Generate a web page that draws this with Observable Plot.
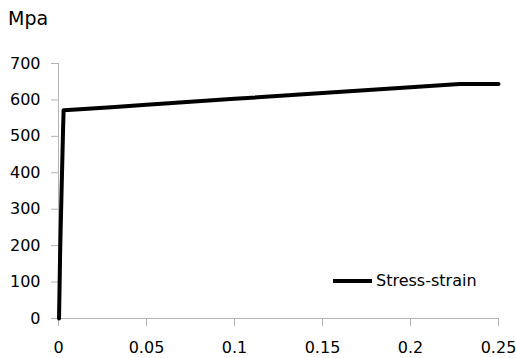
<!DOCTYPE html>
<html><head><meta charset="utf-8">
<script src="https://cdn.jsdelivr.net/npm/d3@7"></script>
<script src="https://cdn.jsdelivr.net/npm/@observablehq/plot@0.6"></script>
<style>
body{margin:0;background:#fff;font-family:"DejaVu Sans",sans-serif;color:#000;}
#wrap{position:relative;width:516px;height:358px;}
#wrap svg.plot{position:absolute;left:0;top:0;}
#unit{position:absolute;left:8px;top:6px;font-size:19px;line-height:24px;}
#legend{position:absolute;left:333px;top:271px;display:flex;align-items:center;font-size:16px;line-height:20px;}
#legend svg{display:block;}
</style></head>
<body>
<div id="wrap">
  <div id="chart"></div>
  <div id="unit">Mpa</div>
  <div id="legend"><svg width="43" height="10"><line x1="0" x2="39" y1="5" y2="5" stroke="#000" stroke-width="4"/></svg><span>Stress-strain</span></div>
</div>
<script>
const strain = [0.0003, 0.001, 0.002, 0.0026, 0.0029, 0.01, 0.03, 0.05, 0.1, 0.15, 0.2, 0.228, 0.25];
const stress = [0, 200, 400, 520, 572, 574, 580, 587, 603, 619, 635, 644, 644];
const xTicks = [0, 0.05, 0.1, 0.15, 0.2, 0.25];
const yTicks = [0, 100, 200, 300, 400, 500, 600, 700];
const seriesName = "Stress-strain";

const data = strain.map((s, i) => ({strain: s, stress: stress[i], series: seriesName}));
const axisGray = "#b4b4b4";

const chart = Plot.plot({
  width: 516,
  height: 358,
  marginLeft: 58,
  marginRight: 18,
  marginTop: 63,
  marginBottom: 40,
  style: {fontFamily: "DejaVu Sans", fontSize: "16px", color: "#000", background: "transparent"},
  x: {domain: [0, 0.25]},
  y: {domain: [0, 700]},
  marks: [
    Plot.ruleX([0], {y1: 0, y2: 700, stroke: axisGray}),
    Plot.ruleY([0], {stroke: axisGray}),
    Plot.axisX({ticks: xTicks, tickSize: 8, tickPadding: 15, stroke: axisGray, fill: "#000", label: null, tickFormat: d => String(d)}),
    Plot.axisY({ticks: yTicks, tickSize: 7, tickPadding: 11, stroke: axisGray, fill: "#000", label: null, tickFormat: d => String(d)}),
    Plot.line(data, {x: "strain", y: "stress", stroke: "#000", strokeWidth: 4})
  ]
});
document.getElementById("chart").appendChild(chart);
</script>
</body></html>
